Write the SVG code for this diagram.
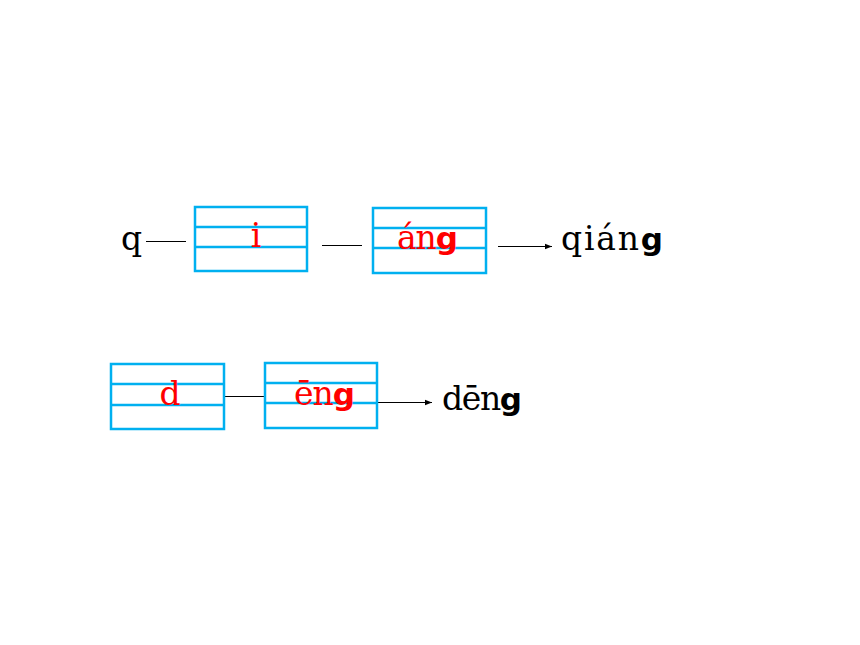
<svg xmlns="http://www.w3.org/2000/svg" width="860" height="645" viewBox="0 0 860 645">
<defs>
<style>
.box{fill:none;stroke:#00B0F0;stroke-width:2.5}
.ln{stroke:#00B0F0;stroke-width:2.5}
.con{stroke:#000;stroke-width:1;fill:none}
.t{font-family:"DejaVu Serif","Liberation Serif",serif;font-size:33px}
.red{fill:#FF0000}
.blk{fill:#000}
.g{font-family:"DejaVu Sans","Liberation Sans",sans-serif;font-weight:bold;font-size:31px}
</style>
<marker id="ah" viewBox="0 0 10 10" refX="10" refY="5" markerWidth="7" markerHeight="7" markerUnits="userSpaceOnUse" orient="auto">
<path d="M0,1 L10,5 L0,9 z" fill="#000"/>
</marker>
</defs>
<rect width="860" height="645" fill="#fff"/>
<g id="connectors">
<line class="con" x1="146" y1="241.5" x2="186" y2="241.5"/>
<line class="con" x1="322" y1="245.5" x2="362" y2="245.5"/>
<line class="con" x1="498" y1="246.5" x2="552" y2="246.5" marker-end="url(#ah)"/>
<line class="con" x1="224" y1="396.5" x2="265" y2="396.5"/>
<line class="con" x1="377" y1="402.5" x2="432" y2="402.5" marker-end="url(#ah)"/>
</g>
<g id="q"><text class="t blk" x="121" y="250">q</text></g>
<g id="box-i">
<rect class="box" x="195" y="207" width="112" height="64"/>
<line class="ln" x1="195" y1="227" x2="307" y2="227"/>
<line class="ln" x1="195" y1="247" x2="307" y2="247"/>
<text class="t red" x="256" y="247" text-anchor="middle">i</text>
</g>
<g id="box-ang">
<rect class="box" x="373" y="208" width="113" height="65"/>
<line class="ln" x1="373" y1="228" x2="486" y2="228"/>
<line class="ln" x1="373" y1="248" x2="486" y2="248"/>
<text class="t red" x="397" y="249" textLength="61" lengthAdjust="spacing">án<tspan class="g">g</tspan></text>
</g>
<g id="qiang"><text class="t blk" x="561" y="250" textLength="102" lengthAdjust="spacing">qián<tspan class="g">g</tspan></text></g>
<g id="box-d">
<rect class="box" x="111" y="364" width="113" height="65"/>
<line class="ln" x1="111" y1="384" x2="224" y2="384"/>
<line class="ln" x1="111" y1="405" x2="224" y2="405"/>
<text class="t red" x="170" y="405" text-anchor="middle">d</text>
</g>
<g id="box-eng">
<rect class="box" x="265" y="363" width="112" height="65"/>
<line class="ln" x1="265" y1="383" x2="377" y2="383"/>
<line class="ln" x1="265" y1="403" x2="377" y2="403"/>
<text class="t red" x="294" y="405" textLength="61" lengthAdjust="spacing">ēn<tspan class="g">g</tspan></text>
</g>
<g id="deng"><text class="t blk" x="442" y="410" textLength="80" lengthAdjust="spacing">dēn<tspan class="g">g</tspan></text></g>
</svg>
